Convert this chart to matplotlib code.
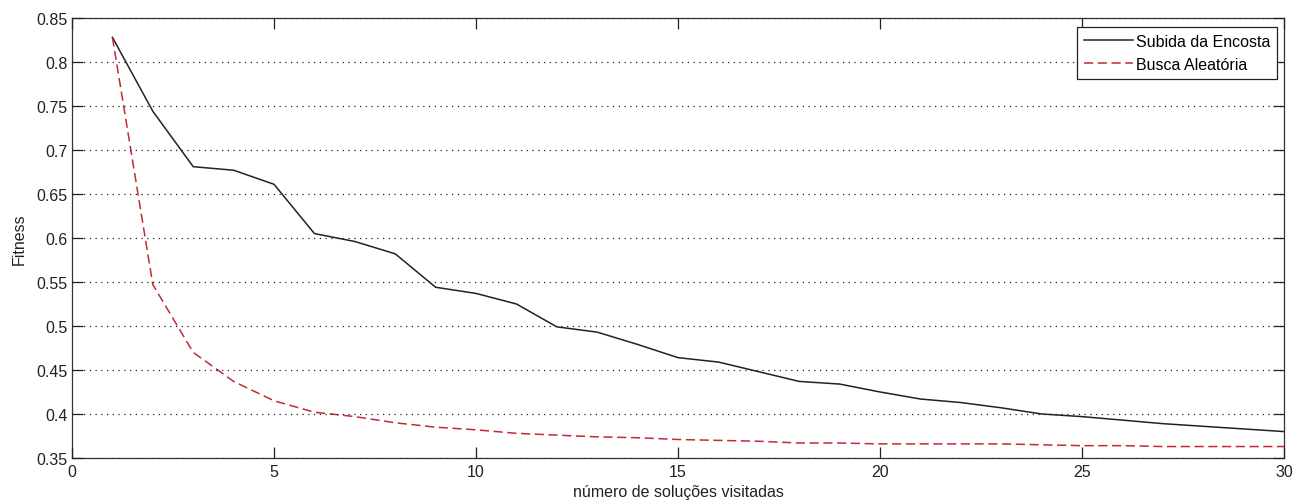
import matplotlib as mpl
import matplotlib.pyplot as plt

INK = "#222222"
RED = "#c22a36"

x_vals = list(range(1, 31))
subida_encosta = [
    0.828, 0.744, 0.681, 0.677, 0.661, 0.605, 0.596, 0.582, 0.544, 0.537,
    0.525, 0.499, 0.493, 0.479, 0.464, 0.459, 0.448, 0.437, 0.434, 0.425,
    0.417, 0.413, 0.407, 0.400, 0.397, 0.393, 0.389, 0.386, 0.383, 0.380,
]
busca_aleatoria = [
    0.828, 0.547, 0.470, 0.437, 0.415, 0.402, 0.397, 0.390, 0.385, 0.382,
    0.378, 0.376, 0.374, 0.373, 0.371, 0.370, 0.369, 0.367, 0.367, 0.366,
    0.366, 0.366, 0.366, 0.365, 0.364, 0.364, 0.363, 0.363, 0.363, 0.363,
]
x_ticks = [0, 5, 10, 15, 20, 25, 30]
y_ticks = [0.35, 0.4, 0.45, 0.5, 0.55, 0.6, 0.65, 0.7, 0.75, 0.8, 0.85]
y_tick_labels = ["0.35", "0.4", "0.45", "0.5", "0.55", "0.6", "0.65", "0.7", "0.75", "0.8", "0.85"]

mpl.rcParams.update(
    {
        "font.family": "sans-serif",
        "font.sans-serif": ["Liberation Sans", "Arial", "DejaVu Sans"],
        "font.size": 11.5,
        "axes.linewidth": 0.9,
        "axes.edgecolor": "#333333",
    }
)

fig = plt.figure(figsize=(12.93, 5.02), dpi=100)
ax = fig.add_axes([0.0557, 0.0857, 0.9374, 0.8765])

ax.plot(x_vals, subida_encosta, color=INK, lw=1.1, label="Subida da Encosta")
ax.plot(x_vals, busca_aleatoria, color=RED, lw=1.1, linestyle=(0, (6, 3)), label="Busca Aleatória")

ax.set_xlim(0, 30)
ax.set_ylim(0.35, 0.85)
ax.set_xticks(x_ticks)
ax.set_yticks(y_ticks)
ax.set_yticklabels(y_tick_labels)
ax.tick_params(direction="in", length=8, width=0.9, top=True, right=True,
               labelsize=11.5, colors=INK, pad=3)
ax.tick_params(axis="x", pad=4)
ax.yaxis.grid(True, color="#222222", linestyle=(0, (1, 3.6)), lw=0.9)
ax.set_axisbelow(False)

ax.set_xlabel("número de soluções visitadas", fontsize=11.5, color=INK, labelpad=4)
ax.set_ylabel("Fitness", fontsize=11.5, color=INK, labelpad=7)

leg = ax.legend(loc="upper right", bbox_to_anchor=(0.9945, 0.98), fontsize=11.5,
                handlelength=3.1, handletextpad=0.15, borderpad=0.45,
                labelspacing=0.5, borderaxespad=0.0, fancybox=False,
                framealpha=1.0, edgecolor=INK)
leg.get_frame().set_linewidth(0.9)

fig.savefig("out.png", dpi=100)
